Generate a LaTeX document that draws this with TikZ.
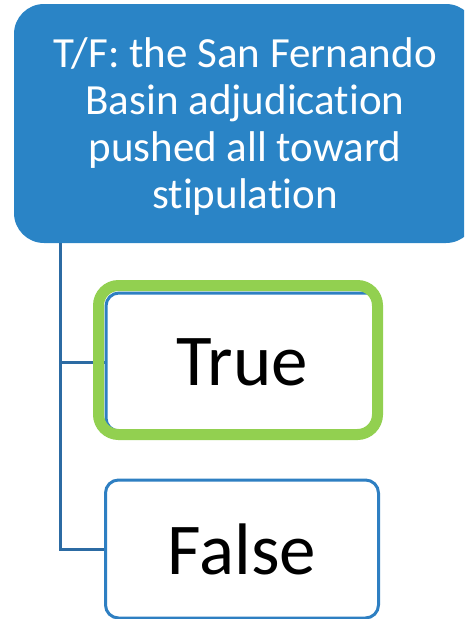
\documentclass[tikz,border=0pt]{standalone}
\usepackage{fontspec}
\setmainfont[Ligatures={NoCommon}]{Carlito}
\definecolor{qblue}{HTML}{2A84C6}
\definecolor{bline}{HTML}{2E7FC2}
\definecolor{cline}{HTML}{2C6BA3}
\definecolor{hgreen}{HTML}{92D050}
\tikzset{
  question/.style={fill=qblue, draw=none, rounded corners=30pt, minimum width=462pt, minimum height=239pt, text=white, align=center, inner sep=0pt, font=\fontsize{43}{47}\selectfont},
  answer/.style={draw=bline, line width=3pt, fill=white, rounded corners=13pt, minimum width=273pt, minimum height=138pt, inner sep=0pt, font=\fontsize{73}{80}\selectfont},
  conn/.style={draw=cline, line width=3pt},
  highlight/.style={draw=hgreen, line width=11pt, rounded corners=20pt}
}
\begin{document}
\begin{tikzpicture}[x=1pt,y=-1pt]
\useasboundingbox (0,0) rectangle (464,619);
\clip (0,0) rectangle (464,619);
\node[question] (q) at (245,123.5) {};
\node[text=white, align=center, inner sep=0pt, font=\fontsize{43}{47}\selectfont] (qt) at (245,127) {T/F: the San Fernando\\Basin adjudication\\pushed all toward\\stipulation};
\coordinate (trunk) at (60,0);
\draw[conn] (q.south -| trunk) |- (242,549);
\draw[conn] (60,362) -- (120,362);
\node[answer] (t) at (242.5,362) {True};
\node[answer] (f) at (242,549) {False};
\draw[highlight] (98.5,285.5) rectangle (377.5,434.5);
\end{tikzpicture}
\end{document}
